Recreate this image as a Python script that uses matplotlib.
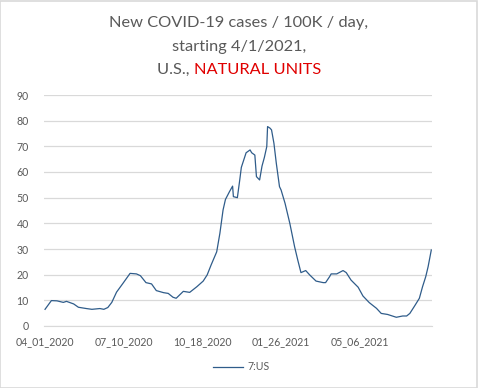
import matplotlib
matplotlib.use("Agg")
import matplotlib.pyplot as plt
from matplotlib.patches import Rectangle

plt.rcParams.update({
    "font.family": ["Lato", "DejaVu Sans"],
    "figure.dpi": 100,
})

# days since 04/01/2020 and 7-day new cases per 100K per day
day_offset = [0, 8, 15, 23, 27, 36, 42, 52, 59, 69, 74, 79, 84, 90, 98, 107,
              115, 120, 127, 134, 140, 149, 155, 161, 165, 170, 174, 182, 191,
              199, 204, 209, 216, 220, 224, 227, 232, 236, 237, 242, 245, 247,
              253, 258, 260, 264, 266, 270, 273, 276, 279, 280, 283, 285, 288,
              291, 295, 297, 302, 308, 314, 318, 322, 328, 333, 341, 350, 353,
              358, 360, 367, 375, 379, 385, 394, 400, 408, 417, 423, 431, 442,
              450, 455, 459, 465, 471, 475, 479, 482, 486]
cases = [6.5, 9.9, 9.8, 9.2, 9.6, 8.6, 7.3, 6.8, 6.5, 6.8, 6.5, 7.2, 9.2, 13.2,
         16.6, 20.5, 20.3, 19.6, 16.9, 16.4, 13.8, 13.0, 12.7, 11.2, 10.8, 12.3,
         13.5, 13.1, 15.3, 17.5, 19.9, 23.8, 28.9, 36.1, 45.2, 49.3, 52.3, 54.5,
         50.4, 50.0, 56.9, 61.8, 67.5, 68.6, 67.5, 66.6, 58.2, 56.9, 62.3, 65.7,
         69.9, 77.7, 77.1, 76.4, 71.2, 63.4, 54.3, 53.0, 47.8, 40.0, 30.9, 25.7,
         20.8, 21.6, 19.9, 17.5, 16.9, 16.9, 19.2, 20.3, 20.3, 21.6, 20.8, 17.9,
         15.1, 11.7, 9.1, 6.9, 4.9, 4.5, 3.4, 3.9, 3.9, 4.9, 7.8, 10.8, 15.3,
         19.2, 23.1, 29.6]

tick_days = [0, 99, 198, 297, 396]
tick_labels = ["04_01_2020", "07_10_2020", "10_18_2020", "01_26_2021", "05_06_2021"]
y_ticks = list(range(0, 91, 10))

gray = "#595959"
grid = "#D9D9D9"

fig = plt.figure(figsize=(4.78, 3.88))
ax = fig.add_axes([44 / 478, 1 - 326 / 388, 388 / 478, 231 / 388])

ax.plot(day_offset, cases, color="#2F5C8A", linewidth=0.9, label="7:US")

ax.set_xlim(-1.3, 486.9)
ax.set_ylim(0, 90)
ax.set_yticks(y_ticks)
ax.set_xticks(tick_days)
ax.set_xticklabels(tick_labels)
ax.grid(axis="y", color=grid, linewidth=0.9)
ax.set_axisbelow(True)
for s in ["top", "right", "left"]:
    ax.spines[s].set_visible(False)
ax.spines["bottom"].set_color(grid)
ax.tick_params(axis="both", length=0, colors=gray, labelsize=7.6)
ax.tick_params(axis="y", pad=11)
ax.tick_params(axis="x", pad=7.5)

# title, three lines, last one in two colours
fs = 11.8
fig.text(0.5, 1 - 23 / 388, "New COVID-19 cases / 100K / day,", ha="center", va="center",
         fontsize=fs, color=gray)
fig.text(0.5, 1 - 47 / 388, "starting 4/1/2021,", ha="center", va="center",
         fontsize=fs, color=gray)
t1 = fig.text(0, 1 - 70 / 388, "U.S., ", ha="left", va="center", fontsize=fs, color=gray)
t2 = fig.text(0, 1 - 70 / 388, "NATURAL UNITS", ha="left", va="center", fontsize=fs,
              color="#E00000")
r = fig.canvas.get_renderer()
w1 = t1.get_window_extent(r).width
w2 = t2.get_window_extent(r).width
W = fig.bbox.width
x0 = (W - w1 - w2) / 2
t1.set_x(x0 / W)
t2.set_x((x0 + w1) / W)

fig.legend(loc="center", bbox_to_anchor=(241 / 478, 1 - 367 / 388), frameon=False,
           fontsize=7.6, labelcolor=gray, handlelength=2.9, handletextpad=0.4)

fig.patches.append(Rectangle((0.001, 0.001), 0.997, 0.997, transform=fig.transFigure,
                             fill=False, edgecolor=grid, linewidth=1.2))

fig.savefig("out.png", dpi=100)
